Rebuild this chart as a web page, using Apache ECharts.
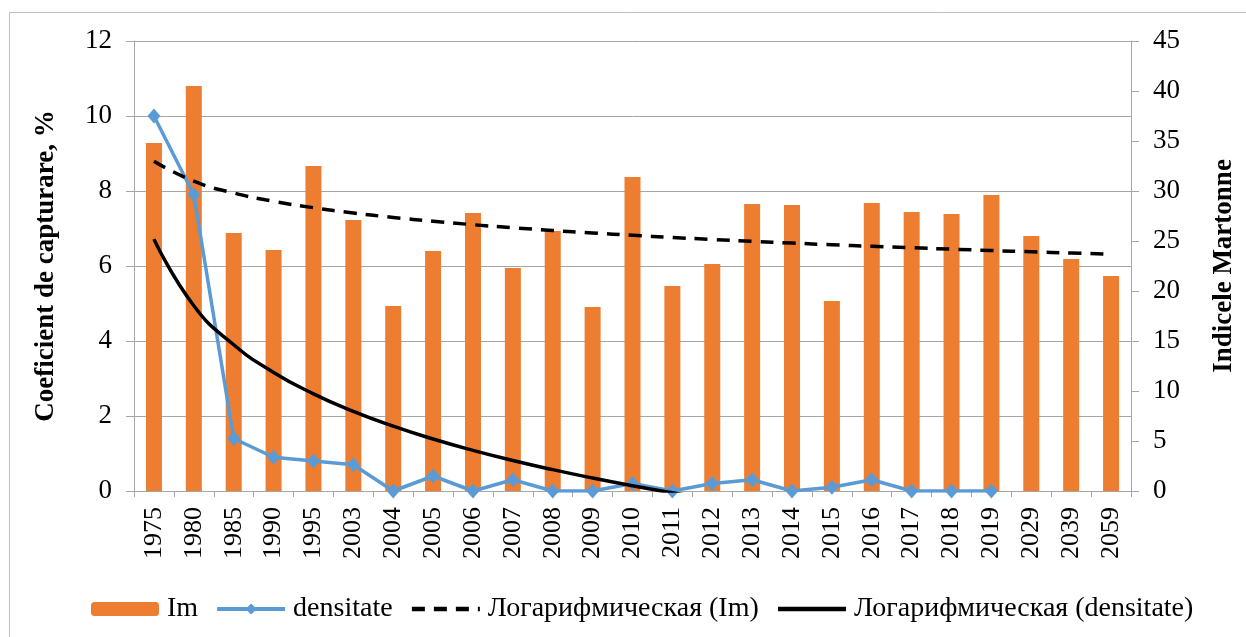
<!DOCTYPE html>
<html>
<head>
<meta charset="utf-8">
<script src="https://cdn.jsdelivr.net/npm/echarts@6/dist/echarts.min.js"></script>
<style>
  html, body { margin: 0; padding: 0; background: #fff; }
  #chart { width: 1246px; height: 637px; }
</style>
</head>
<body>
<div id="chart"></div>
<script>
// Categories (years)
const years = ['1975', '1980', '1985', '1990', '1995', '2003', '2004', '2005', '2006', '2007',
  '2008', '2009', '2010', '2011', '2012', '2013', '2014', '2015', '2016', '2017',
  '2018', '2019', '2029', '2039', '2059'];

// Indicele Martonne (right axis)
const imValues = [34.8, 40.5, 25.8, 24.1, 32.5, 27.1, 18.5, 24.0, 27.8, 22.3,
  26.0, 18.4, 31.4, 20.5, 22.7, 28.7, 28.6, 19.0, 28.8, 27.9,
  27.7, 29.6, 25.5, 23.2, 21.5];

// Coeficient de capturare, % (left axis)
const densitate = [10, 7.9, 1.4, 0.9, 0.8, 0.7, 0, 0.4, 0, 0.3,
  0, 0, 0.2, 0, 0.2, 0.3, 0, 0.1, 0.3, 0,
  0, 0];

// Axis tick settings
const leftTicks = { min: 0, max: 12, interval: 2 };
const rightTicks = { min: 0, max: 45, interval: 5 };

// Logarithmic least-squares trend y = a*ln(x) + b, x = 1..n
function logTrend(values) {
  const n = values.length;
  let sx = 0, sy = 0, sxx = 0, sxy = 0;
  values.forEach((y, i) => {
    const lx = Math.log(i + 1);
    sx += lx; sy += y; sxx += lx * lx; sxy += lx * y;
  });
  const a = (n * sxy - sx * sy) / (n * sxx - sx * sx);
  const b = (sy - a * sx) / n;
  return values.map((_, i) => +(a * Math.log(i + 1) + b).toFixed(4));
}

const imTrend = logTrend(imValues);
const densTrend = logTrend(densitate);

const FONT = 'Liberation Serif';
const GRID_GRAY = '#A6A6A6';

const chart = echarts.init(document.getElementById('chart'), null, { renderer: 'canvas' });

chart.setOption({
  backgroundColor: '#fff',
  animation: false,
  textStyle: { fontFamily: FONT, color: '#000' },
  graphic: [{
    type: 'rect',
    shape: { x: 9.5, y: 12.5, width: 1300, height: 700 },
    style: { fill: 'none', stroke: '#BFBFBF', lineWidth: 1 },
    silent: true,
    z: -10
  }],
  grid: { left: 134, right: 115, top: 41, bottom: 146, containLabel: false },
  legend: {
    left: 86,
    top: 590,
    itemWidth: 68,
    itemHeight: 14,
    itemGap: 17,
    textStyle: { fontFamily: FONT, fontSize: 28, color: '#000', padding: [0, 0, 0, 3] },
    data: [
      { name: 'Im' },
      { name: 'densitate', lineStyle: { width: 4 } },
      { name: 'Логарифмическая (Im)', itemStyle: { opacity: 0 }, lineStyle: { width: 4.5 } },
      { name: 'Логарифмическая (densitate)', itemStyle: { opacity: 0 }, lineStyle: { width: 4.5 } }
    ]
  },
  xAxis: {
    type: 'category',
    data: years,
    boundaryGap: true,
    axisLine: { show: true, lineStyle: { color: GRID_GRAY, width: 1 } },
    axisTick: { show: true, length: 6, lineStyle: { color: GRID_GRAY } },
    axisLabel: { rotate: 90, margin: 16, fontFamily: FONT, fontSize: 26, color: '#000', interval: 0 },
    splitLine: { show: false }
  },
  yAxis: [{
    type: 'value',
    position: 'left',
    min: leftTicks.min, max: leftTicks.max, interval: leftTicks.interval,
    name: 'Coeficient de capturare, %',
    nameLocation: 'middle',
    nameGap: 74,
    nameTextStyle: { fontFamily: FONT, fontSize: 27, fontWeight: 'bold', color: '#000' },
    axisLine: { show: true, lineStyle: { color: GRID_GRAY, width: 1 } },
    axisTick: { show: true, length: 8, lineStyle: { color: GRID_GRAY } },
    axisLabel: { margin: 22, fontFamily: FONT, fontSize: 27, color: '#000' },
    splitLine: { show: true, lineStyle: { color: GRID_GRAY, width: 1 } }
  }, {
    type: 'value',
    position: 'right',
    min: rightTicks.min, max: rightTicks.max, interval: rightTicks.interval,
    name: 'Indicele Martonne',
    nameLocation: 'middle',
    nameGap: 80,
    nameRotate: 90,
    nameTextStyle: { fontFamily: FONT, fontSize: 27, fontWeight: 'bold', color: '#000' },
    axisLine: { show: true, lineStyle: { color: GRID_GRAY, width: 1 } },
    axisTick: { show: true, length: 8, lineStyle: { color: GRID_GRAY } },
    axisLabel: { margin: 22, fontFamily: FONT, fontSize: 27, color: '#000' },
    splitLine: { show: false }
  }],
  series: [{
    name: 'Im',
    type: 'bar',
    yAxisIndex: 1,
    data: imValues,
    barWidth: 16,
    itemStyle: { color: '#ED7D31' },
    z: 1
  }, {
    name: 'densitate',
    type: 'line',
    yAxisIndex: 0,
    data: densitate,
    symbol: 'diamond',
    symbolSize: [13, 15],
    itemStyle: { color: '#5B9BD5' },
    lineStyle: { color: '#5B9BD5', width: 3.5 },
    z: 3
  }, {
    name: 'Логарифмическая (Im)',
    type: 'line',
    yAxisIndex: 1,
    data: imTrend,
    smooth: true,
    symbol: 'none',
    itemStyle: { color: '#000' },
    lineStyle: { color: '#000', width: 3.5, type: [13, 9] },
    z: 4
  }, {
    name: 'Логарифмическая (densitate)',
    type: 'line',
    yAxisIndex: 0,
    data: densTrend,
    smooth: true,
    symbol: 'none',
    clip: true,
    itemStyle: { color: '#000' },
    lineStyle: { color: '#000', width: 3.5 },
    z: 4
  }]
});
</script>
</body>
</html>
